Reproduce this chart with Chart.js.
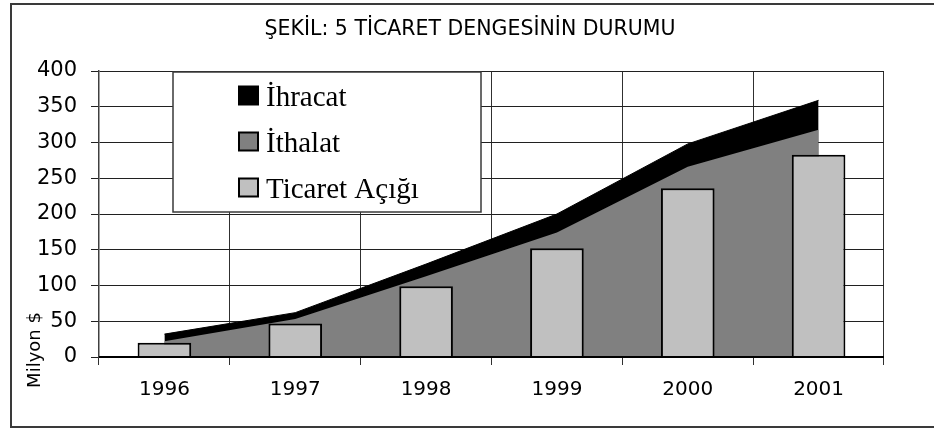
<!DOCTYPE html>
<html>
<head>
<meta charset="utf-8">
<title>Ticaret Dengesi</title>
<script src="https://cdn.jsdelivr.net/npm/chart.js@4/dist/chart.umd.min.js"></script>
<style>
body{margin:0;background:#fff;}
#wrap{width:934px;height:429px;}
</style>
</head>
<body>
<div id="wrap"><canvas id="myChart" width="934" height="429"></canvas></div>
<script>
// data (milyon $)
const years = ['1996', '1997', '1998', '1999', '2000', '2001'];
const ihracat = [32, 62, 130, 200, 298, 359];
const ithalat = [22, 53, 113, 174, 266, 318];
const ticaretAcigi = [20, 47, 99, 152, 236, 283];
const yMin = 0;
const yMax = 400;
const yStep = 50;

const titleText = 'ŞEKİL: 5 TİCARET DENGESİNİN DURUMU';
const yTitle = 'Milyon $';

Chart.defaults.font.family = 'DejaVu Sans';
Chart.defaults.color = '#000';

// frame, title, axis line, legend box, y title
let decor = {
    id: 'decor',
    beforeDraw(chart){
        let c = chart.ctx;
        c.save();
        c.fillStyle = '#fff';
        c.fillRect(0, 0, chart.width, chart.height);
        c.strokeStyle = '#3a3a3a';
        c.lineWidth = 2;
        c.strokeRect(11, 4, chart.width + 20, 423);
        c.fillStyle = '#000';
        c.font = '20.5px "DejaVu Sans"';
        c.textAlign = 'center';
        c.textBaseline = 'middle';
        c.fillText(titleText, 470, 30);
        c.restore();
    },
    afterDatasetsDraw(chart){
        let a = chart.chartArea;
        let c = chart.ctx;
        c.save();
        c.strokeStyle = '#000';
        c.lineWidth = 2;
        c.beginPath();
        c.moveTo(a.left, a.bottom);
        c.lineTo(a.right, a.bottom);
        c.stroke();
        c.restore();
    },
    afterDraw(chart){
        let c = chart.ctx;
        c.save();
        // legend box
        c.fillStyle = '#fff';
        c.fillRect(173, 72, 308, 140);
        c.strokeStyle = '#3a3a3a';
        c.lineWidth = 1.5;
        c.strokeRect(173, 72, 308, 140);
        c.font = '29px "Liberation Serif"';
        c.textBaseline = 'alphabetic';
        chart.data.datasets.forEach(function(ds, i){
            let cy = 95.5 + i * 46;
            c.fillStyle = ds.backgroundColor;
            c.fillRect(239, cy - 9, 19, 18);
            c.strokeStyle = '#000';
            c.lineWidth = 2;
            c.strokeRect(239, cy - 9, 19, 18);
            c.fillStyle = '#000';
            c.fillText(ds.label, 266, cy + 10);
        });
        // y axis title
        c.translate(35, 350);
        c.rotate(-Math.PI / 2);
        c.font = '18px "DejaVu Sans"';
        c.textAlign = 'center';
        c.textBaseline = 'middle';
        c.fillStyle = '#000';
        c.fillText(yTitle, 0, 0);
        c.restore();
    }
};

let ctx = document.getElementById('myChart').getContext('2d');
let myChart = new Chart(ctx, {
    type: 'bar',
    data: {
        labels: years,
        datasets: [{
            type: 'line',
            label: 'İhracat',
            data: ihracat,
            backgroundColor: '#000000',
            borderColor: '#000000',
            borderWidth: 1,
            pointRadius: 0,
            tension: 0,
            fill: 'origin',
            order: 3
        }, {
            type: 'line',
            label: 'İthalat',
            data: ithalat,
            backgroundColor: '#808080',
            borderColor: '#808080',
            borderWidth: 0,
            pointRadius: 0,
            tension: 0,
            fill: 'origin',
            order: 2
        }, {
            type: 'bar',
            label: 'Ticaret Açığı',
            data: ticaretAcigi,
            backgroundColor: '#c0c0c0',
            borderColor: '#000000',
            borderWidth: 2,
            categoryPercentage: 1,
            barPercentage: 0.41,
            order: 1
        }]
    },
    options: {
        responsive: false,
        animation: false,
        devicePixelRatio: 1,
        layout: { padding: { left: 0, right: 50, top: 71, bottom: 0 } },
        plugins: {
            legend: { display: false },
            tooltip: { enabled: false },
            title: { display: false }
        },
        scales: {
            x: {
                offset: true,
                grid: { offset: true, color: '#303030', lineWidth: 1, tickLength: 8 },
                border: { display: false },
                ticks: { font: { size: 20 }, padding: 13, color: '#000' },
                afterFit: function(scale){ scale.height = 72; }
            },
            y: {
                min: yMin,
                max: yMax,
                grid: { color: '#202020', lineWidth: 1, tickLength: 8 },
                border: { display: true, color: '#404040', width: 1.5 },
                ticks: { stepSize: yStep, font: { size: 21 }, padding: 14, color: '#000' },
                afterFit: function(scale){ scale.width = 99; }
            }
        }
    },
    plugins: [decor]
});
</script>
</body>
</html>
